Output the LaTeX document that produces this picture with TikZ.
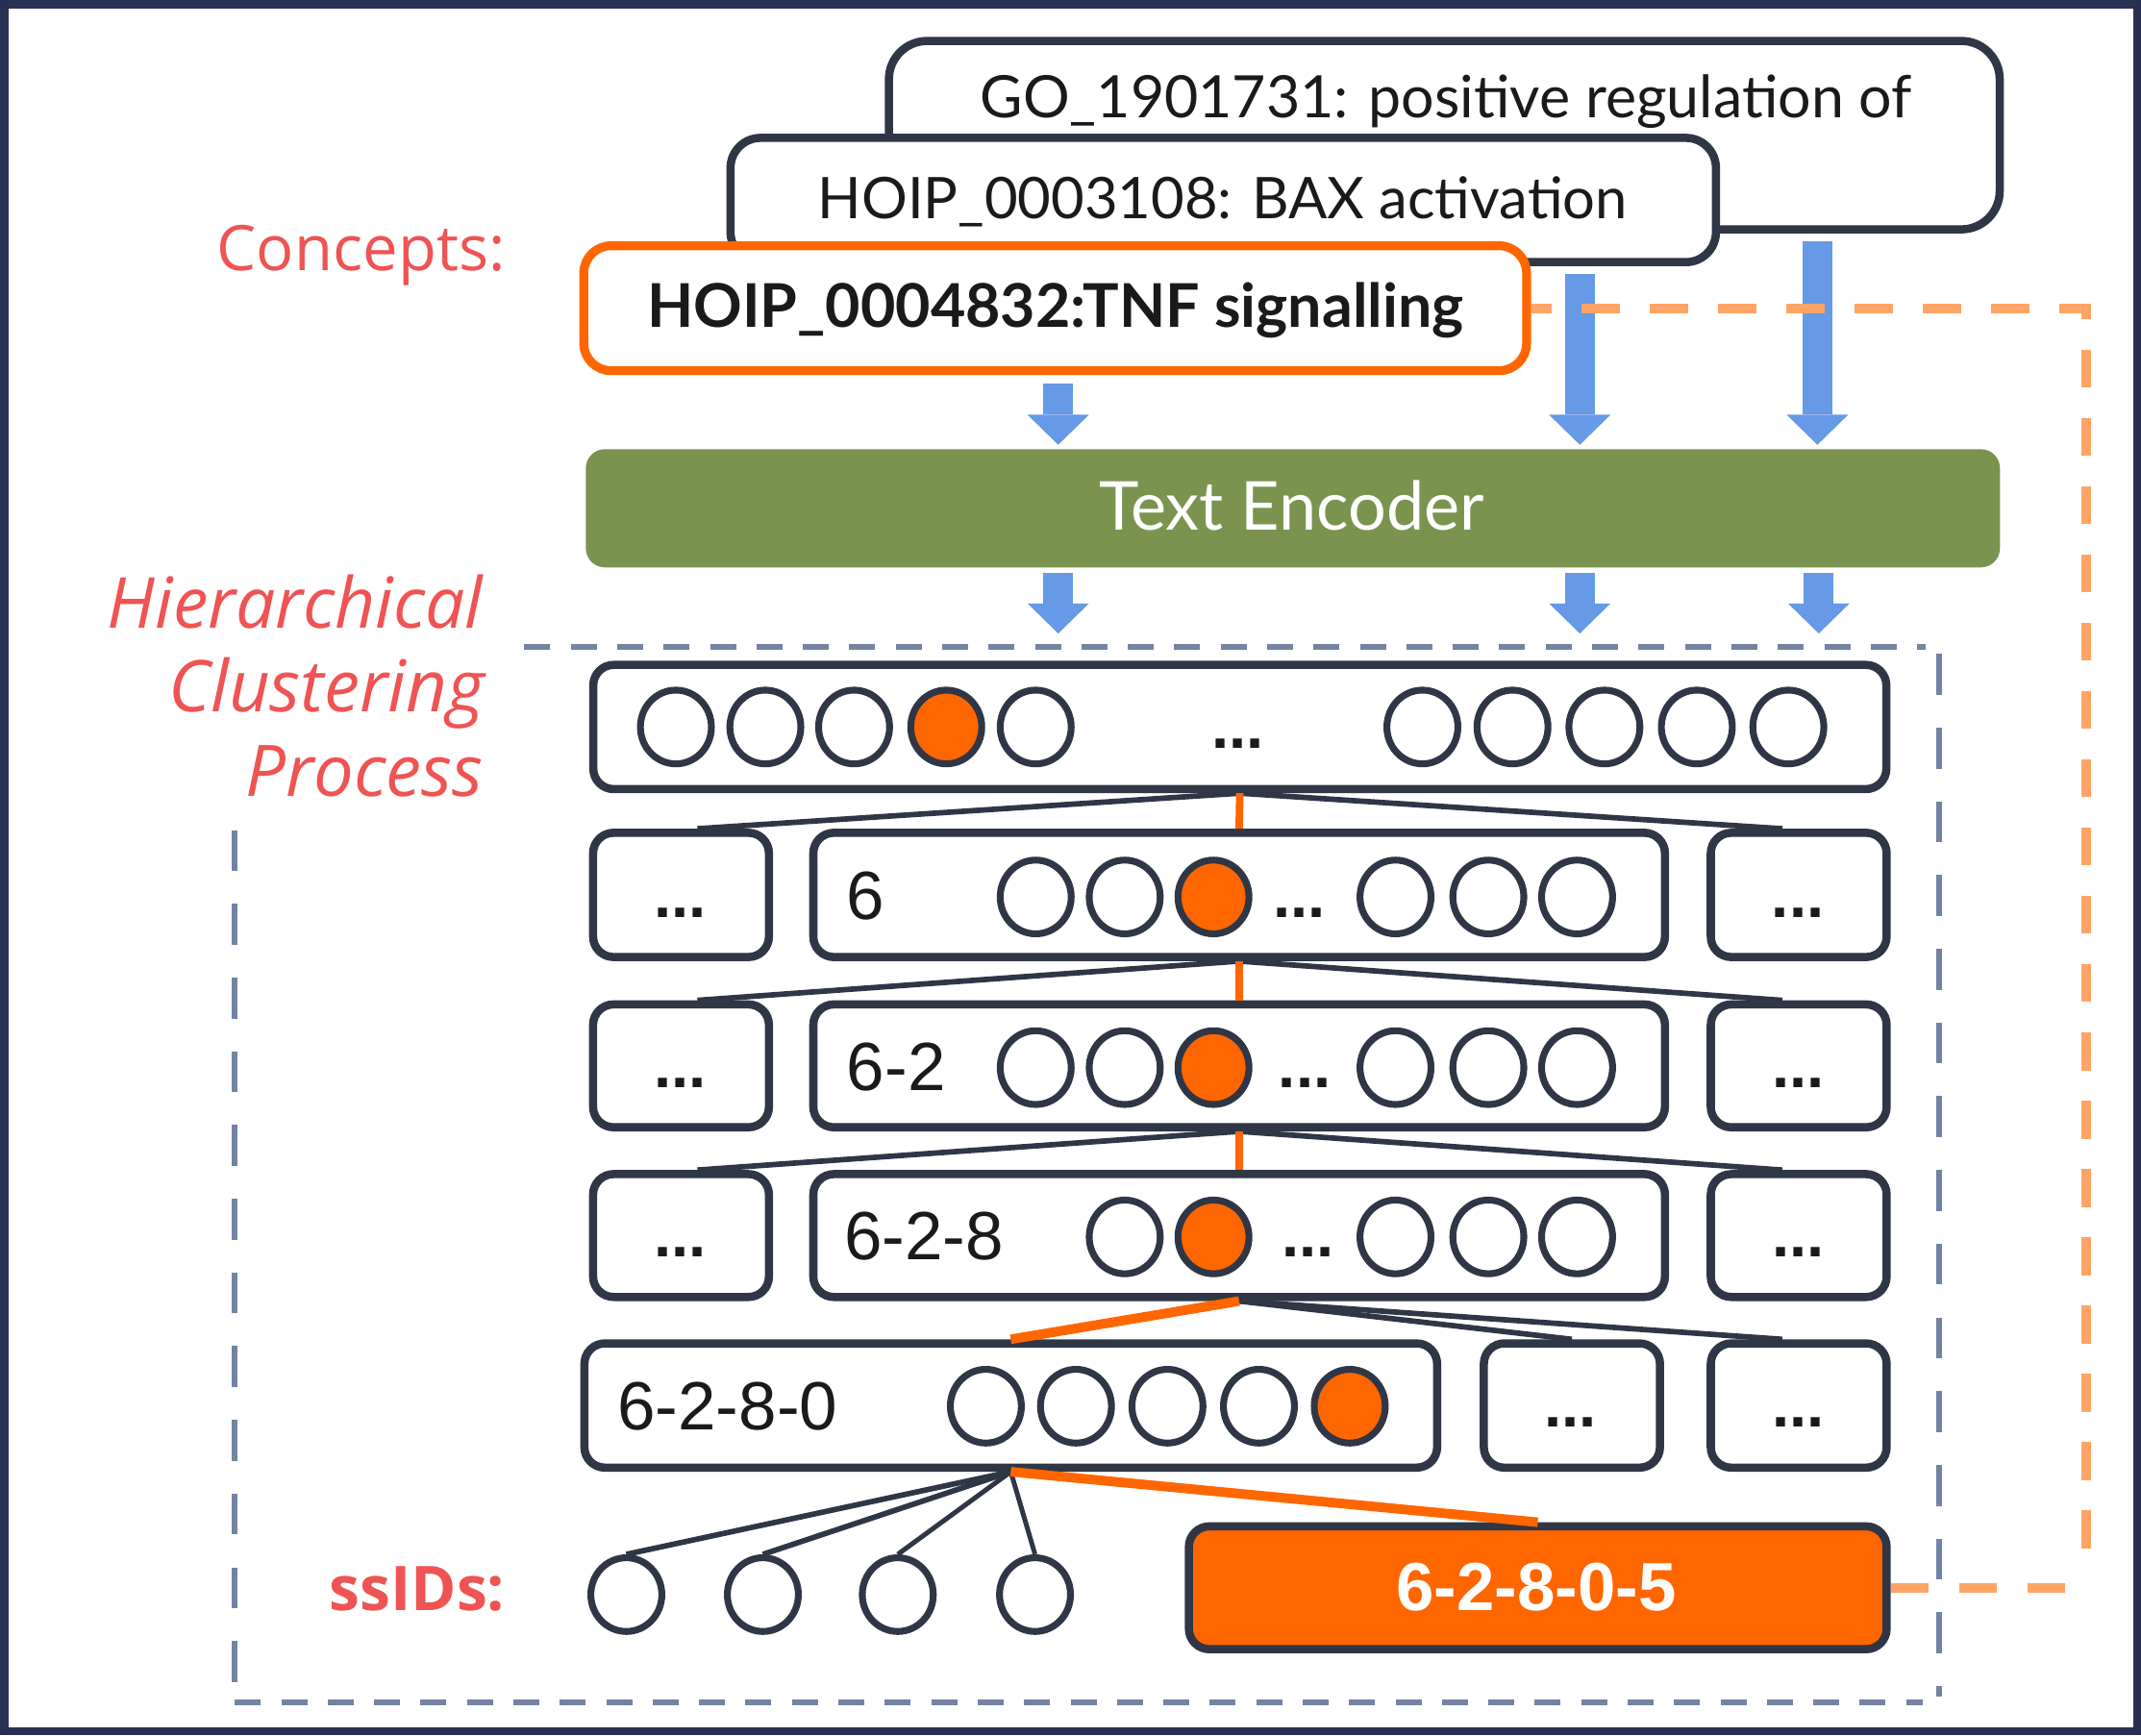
\documentclass[tikz,border=0pt]{standalone}
\usepackage{graphicx}
\usepackage{fontspec}
\setmainfont{Lato}
\newfontfamily\arialf{Liberation Sans}
\newfontfamily\redf{Open Sans}
\usetikzlibrary{arrows.meta,shapes.geometric,calc}
\definecolor{dk}{HTML}{2F3646}
\definecolor{frm}{HTML}{283152}
\definecolor{org}{HTML}{FF6600}
\definecolor{lorg}{HTML}{FFA466}
\definecolor{blu}{HTML}{6699E6}
\definecolor{grn}{HTML}{7A9450}
\definecolor{redl}{HTML}{EF5353}
\definecolor{gry}{HTML}{7383A3}
\definecolor{txt}{HTML}{1A1A1A}
\newcommand\fitw[2]{\resizebox{#1}{!}{#2}}
\tikzset{
  cbox/.style={draw=dk, line width=6pt, fill=white, inner sep=0pt},
  tbox/.style={draw=dk, line width=6pt, fill=white, rounded corners=15pt, inner sep=0pt, minimum height=91pt},
  sbox/.style={tbox, minimum width=128.8pt},
  cir/.style={ellipse, draw=dk, line width=5pt, fill=white, minimum width=52pt, minimum height=54pt, inner sep=0pt},
  ocir/.style={cir, fill=org},
  dotsn/.style={anchor=base, inner sep=0pt, text=txt, font=\arialf\bfseries\fontsize{46}{48}\selectfont},
  lab/.style={anchor=base west, inner sep=0pt, text=txt, font=\arialf\fontsize{50}{52}\selectfont},
  barrow/.style={draw=blu, line width=22pt, -{Triangle[width=45pt,length=22pt,line width=0pt]}},
  tl/.style={draw=dk, line width=4pt},
  ol/.style={draw=org, line width=5.5pt},
  olt/.style={draw=org, line width=7pt},
  odash/.style={draw=lorg, line width=7pt, dash pattern=on 28pt off 22pt, dash phase=13pt},
  odashb/.style={draw=lorg, line width=7pt, dash pattern=on 28pt off 22pt},
  gdh/.style={draw=gry, line width=4.5pt, dash pattern=on 19pt off 15pt},
  gdv/.style={draw=gry, line width=4pt, dash pattern=on 30pt off 24pt},
  redlab/.style={text=redl, inner sep=0pt},
}
\begin{document}
\begin{tikzpicture}[x=1pt,y=-1pt]
\useasboundingbox (0,0) rectangle (1568,1271);
\fill[white] (0,0) rectangle (1568,1271);
\draw[frm, line width=6pt] (3,3) rectangle (1565,1268);

% grey dashed frame of the clustering process
\coordinate (g1) at (384,474);
\coordinate (g2) at (1410,474);
\coordinate (g3) at (1420,479);
\coordinate (g4) at (1420,1243);
\coordinate (g5) at (1408,1247);
\coordinate (g6) at (172,1247);
\coordinate (g7) at (172,1232);
\coordinate (g8) at (172,608);
\draw[gdh] (g1) -- (g2);
\draw[gdv] (g3) -- (g4);
\draw[gdh] (g6) -- (g5);
\draw[gdv] (g8) -- (g7);

% concept boxes
\node[cbox, minimum width=813.5pt, minimum height=138pt, rounded corners=28pt] (go) at (1057.75,99) {};
\node[anchor=base, inner sep=0pt, text=txt] (gotext) at (1059,86) {\fitw{682pt}{GO\_1901731: positive regulation of}};
\node[cbox, minimum width=721.7pt, minimum height=91pt, rounded corners=22pt] (bax) at (895.85,146.5) {};
\node[anchor=base, inner sep=0pt, text=txt] (baxtext) at (895.5,160) {\fitw{593pt}{HOIP\_0003108: BAX activation}};
\node[cbox, draw=org, line width=6.5pt, minimum width=690.5pt, minimum height=91.5pt, rounded corners=20pt] (tnf) at (772.75,225.75) {};
\node[anchor=base, inner sep=0pt, text=txt] (tnftext) at (773,240) {\fitw{598pt}{\bfseries HOIP\_0004832:TNF signalling}};

% labels
\node[redlab, anchor=base] (lconc) at (264.5,198) {\fitw{211pt}{\redf Concepts:}};
\node[redlab, anchor=base east] (lhier) at (354,460) {\fitw{275pt}{\redf\itshape Hierarchical}};
\node[redlab, anchor=base east] (lclus) at (355,521.5) {\fitw{231pt}{\redf\itshape Clustering}};
\node[redlab, anchor=base east] (lproc) at (354,583) {\fitw{174pt}{\redf\itshape Process}};
\node[redlab, anchor=base east] (lssid) at (370,1180) {\fitw{128.5pt}{\redf\bfseries ssIDs:}};

% encoder
\node[fill=grn, rounded corners=14pt, minimum width=1035.7pt, minimum height=86.6pt, inner sep=0pt] (enc) at (946.85,372.3) {};
\node[anchor=base, inner sep=0pt, text=white] (enctext) at (946,388) {\fitw{282pt}{Text Encoder}};

% tree boxes
\node[tbox, minimum width=947pt] (r0) at (908,532.5) {};
\node[sbox] (l1) at (498.75,655.5) {};
\node[tbox, minimum width=623.7pt] (m1) at (907.5,655.5) {};
\node[sbox] (r1) at (1317.3,655.5) {};
\node[sbox, minimum height=90pt] (l2) at (498.75,780.7) {};
\node[tbox, minimum width=623.7pt, minimum height=90pt] (m2) at (907.5,780.7) {};
\node[sbox, minimum height=90pt] (r2) at (1317.3,780.7) {};
\node[sbox, minimum height=90pt] (l3) at (498.75,905) {};
\node[tbox, minimum width=623.7pt, minimum height=90pt] (m3) at (907.5,905) {};
\node[sbox, minimum height=90pt] (r3) at (1317.3,905) {};
\node[tbox, minimum width=624.5pt] (m4) at (740.25,1029.5) {};
\node[sbox, minimum width=129pt] (b4) at (1151.2,1029.5) {};
\node[sbox] (r4) at (1317.3,1029.5) {};
\node[tbox, fill=org, minimum width=511pt, minimum height=90pt] (f) at (1126.2,1163) {};
\node[anchor=base, inner sep=0pt, text=white] (ftext) at (1125,1180) {\fitw{205pt}{\arialf\bfseries 6-2-8-0-5}};

% circles
\foreach \x/\n in {495/a,560.5/b,625.5/c,758.5/e,1041.7/f,1107.7/g,1175/h,1242.7/i,1309.7/j}
  \node[cir] (c0\n) at (\x,532.5) {};
\node[ocir] (c0d) at (693,532.5) {};
\foreach \x/\n in {758.5/a,823.7/b,1022/d,1090/e,1155/f}
  \node[cir] (c1\n) at (\x,657) {};
\node[ocir] (c1c) at (888.7,657) {};
\foreach \x/\n in {758.5/a,823.7/b,1022/d,1090/e,1155/f}
  \node[cir] (c2\n) at (\x,782) {};
\node[ocir] (c2c) at (888.7,782) {};
\foreach \x/\n in {823.7/b,1022/d,1090/e,1155/f}
  \node[cir] (c3\n) at (\x,906) {};
\node[ocir] (c3c) at (888.7,906) {};
\foreach \x/\n in {722/a,788/b,855/c,922/d}
  \node[cir] (c4\n) at (\x,1030) {};
\node[ocir] (c4e) at (988.5,1030) {};
\foreach \x/\n in {458.7/1,558.7/2,657.5/3,758/4}
  \node[cir] (s\n) at (\x,1168) {};

% dots
\node[dotsn] (d0) at (906.7,548.4) {...};
\node[dotsn] (dl1) at (498,672) {...};
\node[dotsn] (dm1) at (951.7,672) {...};
\node[dotsn] (dr1) at (1316.7,672) {...};
\node[dotsn] (dl2) at (498,797) {...};
\node[dotsn] (dm2) at (955.5,797) {...};
\node[dotsn] (dr2) at (1317,797) {...};
\node[dotsn] (dl3) at (498,920.5) {...};
\node[dotsn] (dm3) at (958,920.5) {...};
\node[dotsn] (dr3) at (1317,920.5) {...};
\node[dotsn] (db4) at (1150,1045.5) {...};
\node[dotsn] (dr4) at (1317,1045.5) {...};

% row labels
\node[lab] (t1) at (620,673.4) {6};
\node[lab] (t2) at (620,798.6) {6-2};
\node[lab] (t3) at (618,922.9) {6-2-8};
\node[lab] (t4) at (452,1047.4) {6-2-8-0};

% blue arrows
\coordinate (ax1) at (775,0);
\coordinate (ax2) at (1157,0);
\coordinate (ax3) at (1331,0);
\coordinate (bx3) at (1332,0);
\draw[barrow] ($(tnf.south -| ax1)+(0,6)$) -- ($(enc.north -| ax1)+(0,-3)$);
\draw[barrow] ($(bax.south -| ax2)+(0,6)$) -- ($(enc.north -| ax2)+(0,-3)$);
\draw[barrow] ($(go.south -| ax3)+(0,6)$) -- ($(enc.north -| ax3)+(0,-3)$);
\draw[barrow] ($(enc.south -| ax1)+(0,4)$) -- ($(r0.north -| ax1)+(0,-20)$);
\draw[barrow] ($(enc.south -| ax2)+(0,4)$) -- ($(r0.north -| ax2)+(0,-20)$);
\draw[barrow] ($(enc.south -| bx3)+(0,4)$) -- ($(r0.north -| bx3)+(0,-20)$);

% tree connectors
\draw[tl] (r0.south) -- ([xshift=12pt]l1.north);
\draw[tl] (r0.south) -- ([xshift=-12pt]r1.north);
\draw[ol] (r0.south) -- (m1.north);
\draw[tl] (m1.south) -- ([xshift=12pt]l2.north);
\draw[tl] (m1.south) -- ([xshift=-12pt]r2.north);
\draw[ol] (m1.south) -- (m2.north);
\draw[tl] (m2.south) -- ([xshift=12pt]l3.north);
\draw[tl] (m2.south) -- ([xshift=-12pt]r3.north);
\draw[ol] (m2.south) -- (m3.north);
\draw[tl] (m3.south) -- (b4.north);
\draw[tl] (m3.south) -- ([xshift=-12pt]r4.north);
\draw[olt] (m3.south) -- (m4.north);
\draw[tl] (m4.south) -- (s1.north);
\draw[tl] (m4.south) -- (s2.north);
\draw[tl, line width=3.5pt] (m4.south) -- (s3.north);
\draw[tl, line width=3.5pt] (m4.south) -- (s4.north);
\draw[olt] (m4.south) -- (f.north);

% orange dashed link
\coordinate (odx) at (1528,0);
\coordinate (odc) at ($(f.east -| odx)$);
\draw[odash] (tnf.east) -- (tnf.east -| odx) -- ($(odc)+(0,-8)$);
\draw[odashb] (f.east) -- (odc);
\end{tikzpicture}
\end{document}
